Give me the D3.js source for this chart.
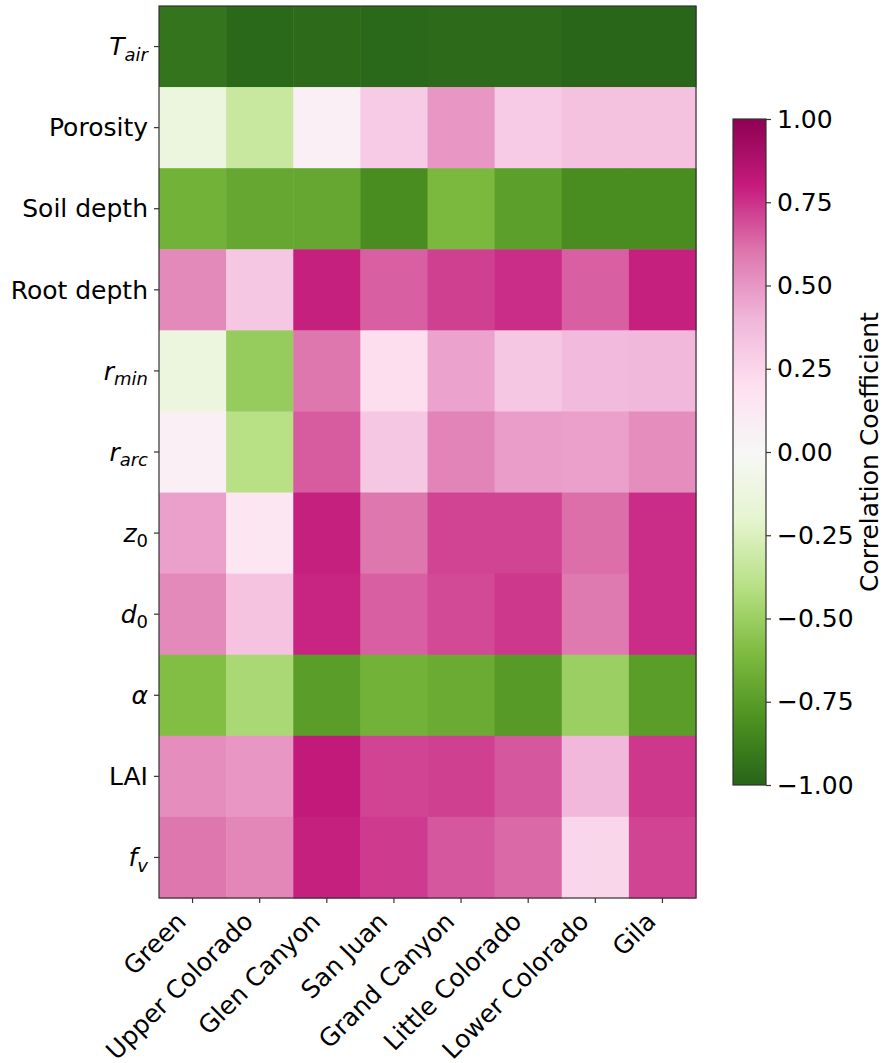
<!DOCTYPE html>
<html>
<head>
    <meta charset="utf-8">
    <title>Correlation Heatmap</title>
    <script src="https://d3js.org/d3.v7.min.js"></script>
    <style>
        body { margin: 0; background: #fff; }
        text { font-family: "DejaVu Sans", sans-serif; fill: #000; }
    </style>
</head>
<body>
    <div id="chart"></div>

    <script>
        // Basins (columns) and parameters (rows)
        var basins = ["Green", "Upper Colorado", "Glen Canyon", "San Juan",
                      "Grand Canyon", "Little Colorado", "Lower Colorado", "Gila"];
        var params = ["Tair", "Porosity", "Soil depth", "Root depth", "rmin",
                      "rarc", "z0", "d0", "alpha", "LAI", "fv"];

        // Correlation coefficients, one array per parameter (row)
        var tair      = [-0.93, -0.98, -0.97, -0.98, -0.97, -0.97, -0.99, -0.99];
        var porosity  = [-0.13, -0.33,  0.07,  0.30,  0.50,  0.30,  0.35,  0.35];
        var soilDepth = [-0.65, -0.70, -0.70, -0.82, -0.62, -0.74, -0.82, -0.82];
        var rootDepth = [ 0.54,  0.32,  0.79,  0.65,  0.72,  0.76,  0.65,  0.79];
        var rmin      = [-0.13, -0.52,  0.60,  0.21,  0.46,  0.32,  0.38,  0.39];
        var rarc      = [ 0.07, -0.40,  0.66,  0.32,  0.56,  0.48,  0.47,  0.53];
        var z0        = [ 0.47,  0.15,  0.79,  0.60,  0.71,  0.71,  0.62,  0.76];
        var d0        = [ 0.54,  0.34,  0.78,  0.65,  0.70,  0.74,  0.59,  0.76];
        var alpha     = [-0.59, -0.45, -0.75, -0.65, -0.68, -0.76, -0.50, -0.75];
        var lai       = [ 0.53,  0.50,  0.81,  0.71,  0.72,  0.67,  0.39,  0.74];
        var fv        = [ 0.60,  0.55,  0.79,  0.73,  0.67,  0.63,  0.25,  0.71];

        var rows = [tair, porosity, soilDepth, rootDepth, rmin, rarc, z0, d0, alpha, lai, fv];
        var cbTicks = [-1.00, -0.75, -0.50, -0.25, 0.00, 0.25, 0.50, 0.75, 1.00];

        // Flatten into cells
        var cells = [];
        rows.forEach(function(r, i) {
            r.forEach(function(v, j) {
                cells.push({ param: params[i], basin: basins[j], value: v });
            });
        });

        // PiYG reversed (green = -1, magenta = +1), linear like matplotlib
        var piyg = ["#276419", "#4d9221", "#7fbc41", "#b8e186", "#e6f5d0", "#f7f7f7",
                    "#fde0ef", "#f1b6da", "#de77ae", "#c51b7d", "#8e0152"];
        var color = d3.scaleLinear()
            .domain(d3.range(11).map(function(i) { return -1 + i * 0.2; }))
            .range(piyg)
            .interpolate(d3.interpolateRgb)
            .clamp(true);

        var W = 884, H = 1063;
        var plot = { left: 159, top: 6, width: 537, height: 892 };
        var fs = "25px";

        var svg = d3.select("#chart").append("svg")
            .attr("width", W)
            .attr("height", H);

        var g = svg.append("g")
            .attr("transform", "translate(" + plot.left + "," + plot.top + ")");

        var x = d3.scaleBand().domain(basins).range([0, plot.width]);
        var y = d3.scaleBand().domain(params).range([0, plot.height]);

        g.selectAll(".cell")
            .data(cells)
            .enter()
            .append("rect")
            .attr("class", "cell")
            .attr("x", function(d) { return x(d.basin); })
            .attr("y", function(d) { return y(d.param); })
            .attr("width", x.bandwidth() + 0.5)
            .attr("height", y.bandwidth() + 0.5)
            .attr("fill", function(d) { return color(d.value); });

        // Frame
        g.append("rect")
            .attr("width", plot.width)
            .attr("height", plot.height)
            .attr("fill", "none")
            .attr("stroke", "#333")
            .attr("stroke-width", 1.2);

        // Y axis with math-style labels
        var yAxis = g.append("g")
            .call(d3.axisLeft(y).tickSize(5).tickFormat(""));
        yAxis.select(".domain").remove();
        yAxis.selectAll("line").attr("stroke", "#333").attr("stroke-width", 1.2);

        var labelMath = {
            "Tair":  { main: "T", sub: "air" },
            "rmin":  { main: "r", sub: "min" },
            "rarc":  { main: "r", sub: "arc" },
            "z0":    { main: "z", sub: "0", upright: true },
            "d0":    { main: "d", sub: "0", upright: true },
            "alpha": { main: "\u03b1" },
            "fv":    { main: "f", sub: "v" }
        };

        params.forEach(function(p) {
            var t = g.append("text")
                .attr("x", -11)
                .attr("y", y(p) + y.bandwidth() / 2)
                .attr("dy", "0.35em")
                .attr("text-anchor", "end")
                .style("font-size", fs);
            var m = labelMath[p];
            if (!m) {
                t.text(p);
                return;
            }
            t.append("tspan").style("font-style", "italic").text(m.main);
            if (m.sub) {
                t.append("tspan")
                    .attr("dy", "0.3em")
                    .style("font-size", "18px")
                    .style("font-style", m.upright ? "normal" : "italic")
                    .text(m.sub);
            }
        });

        // X axis with rotated labels
        var xAxis = g.append("g")
            .attr("transform", "translate(0," + plot.height + ")")
            .call(d3.axisBottom(x).tickSize(5).tickFormat(""));
        xAxis.select(".domain").remove();
        xAxis.selectAll("line").attr("stroke", "#333").attr("stroke-width", 1.2);

        g.selectAll(".xlabel")
            .data(basins)
            .enter()
            .append("text")
            .attr("class", "xlabel")
            .attr("text-anchor", "end")
            .attr("transform", function(d) {
                var cx = x(d) + x.bandwidth() / 2 - 5;
                return "translate(" + cx + "," + (plot.height + 25) + ") rotate(-45)";
            })
            .style("font-size", fs)
            .text(function(d) { return d; });

        // Colorbar
        var cb = { left: 733, top: 119, width: 33, height: 666 };
        var cbScale = d3.scaleLinear().domain([-1, 1]).range([cb.top + cb.height, cb.top]);

        var defs = svg.append("defs");
        var grad = defs.append("linearGradient")
            .attr("id", "cbgrad")
            .attr("x1", 0).attr("y1", 1).attr("x2", 0).attr("y2", 0);
        grad.selectAll("stop")
            .data(d3.range(0, 1.0001, 0.02))
            .enter()
            .append("stop")
            .attr("offset", function(d) { return d; })
            .attr("stop-color", function(d) { return color(-1 + 2 * d); });

        svg.append("rect")
            .attr("x", cb.left)
            .attr("y", cb.top)
            .attr("width", cb.width)
            .attr("height", cb.height)
            .attr("fill", "url(#cbgrad)")
            .attr("stroke", "#333")
            .attr("stroke-width", 1.2);

        var cbAxis = svg.append("g")
            .attr("transform", "translate(" + (cb.left + cb.width) + ",0)")
            .call(d3.axisRight(cbScale).tickValues(cbTicks).tickSize(5).tickPadding(6)
                .tickFormat(function(d) { return d3.format(".2f")(d).replace("-", "\u2212"); }));
        cbAxis.select(".domain").remove();
        cbAxis.selectAll("line").attr("stroke", "#333").attr("stroke-width", 1.2);
        cbAxis.selectAll("text")
            .style("font-size", fs)
            .style("font-family", "DejaVu Sans, sans-serif")
            .attr("fill", "#000");

        svg.append("text")
            .attr("transform", "translate(878," + (cb.top + cb.height / 2) + ") rotate(-90)")
            .attr("text-anchor", "middle")
            .style("font-size", fs)
            .text("Correlation Coefficient");
    </script>
</body>
</html>
